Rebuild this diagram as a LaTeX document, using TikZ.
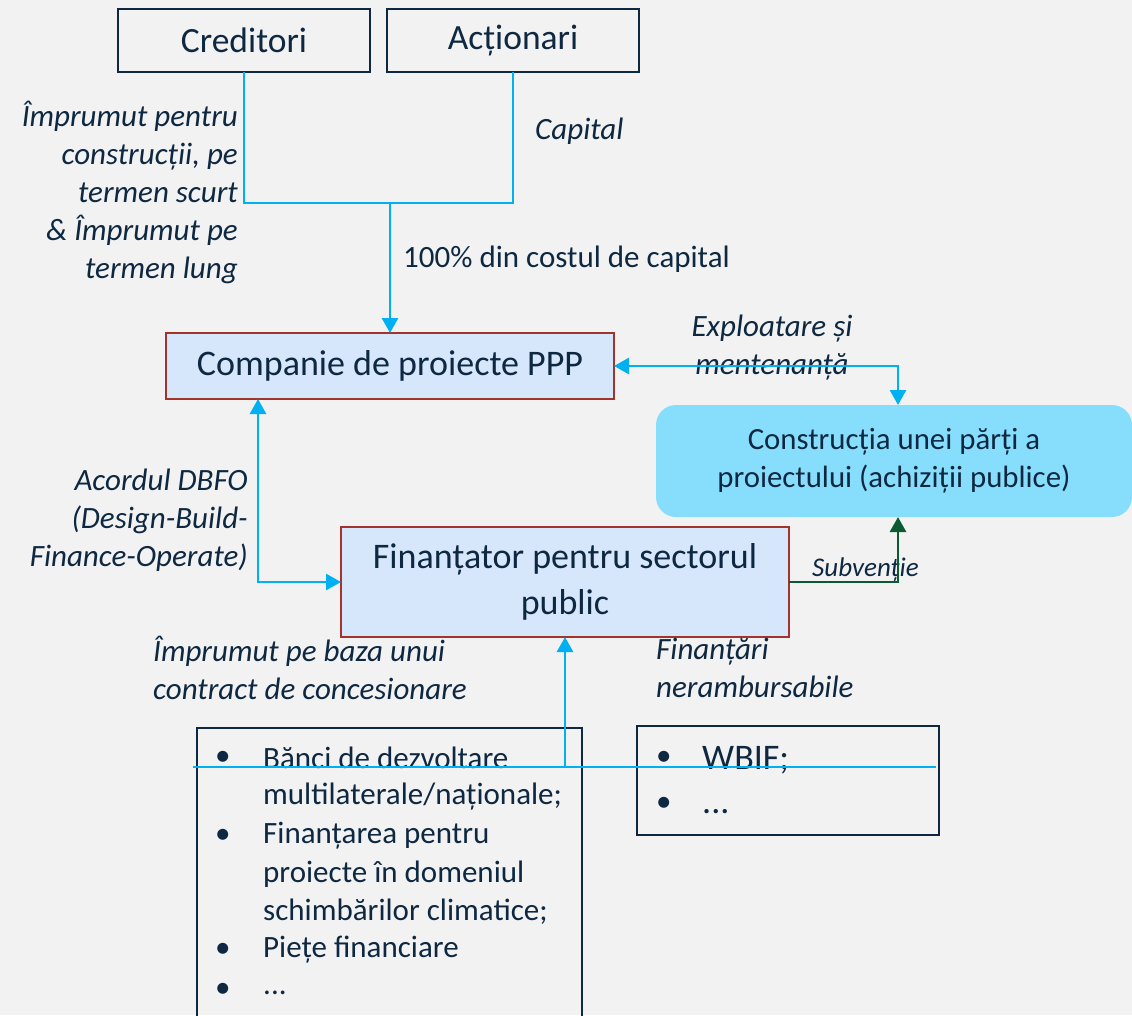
\documentclass[tikz,border=0pt]{standalone}
\usepackage{fontspec}
\setmainfont{Carlito}
\usetikzlibrary{arrows.meta}
\definecolor{bg}{HTML}{F2F2F2}
\definecolor{navy}{HTML}{0E2841}
\definecolor{cyanl}{HTML}{00B0F0}
\definecolor{boxfill}{HTML}{D7E7FB}
\definecolor{boxred}{HTML}{A3342B}
\definecolor{lightcyan}{HTML}{86DEFC}
\definecolor{dgreen}{HTML}{0B5A32}
\begin{document}
\begin{tikzpicture}[x=1pt,y=-1pt,
  topbox/.style={draw=navy, line width=1.8pt, inner sep=0pt, outer sep=0pt, text=navy, font=\fontsize{35.5}{42}\selectfont},
  mainbox/.style={draw=boxred, fill=boxfill, line width=1.5pt, inner sep=0pt, outer sep=0pt, text=navy, font=\fontsize{36}{46}\selectfont, align=center},
  consbox/.style={fill=lightcyan, rounded corners=20pt, inner sep=0pt, outer sep=0pt, text=navy, font=\fontsize{30.8}{38}\selectfont, align=center},
  listbox/.style={draw=navy, line width=1.8pt, inner sep=0pt, outer sep=0pt},
  lbl/.style={text=navy, font=\fontsize{31}{38}\selectfont\itshape, inner sep=0pt},
  plain/.style={text=navy, font=\fontsize{31}{38}\selectfont, inner sep=0pt},
  litem/.style={text=navy, font=\fontsize{31}{38}\selectfont, inner sep=0pt, anchor=west},
  bigitem/.style={text=navy, font=\fontsize{36}{44}\selectfont, inner sep=0pt, anchor=west},
  conn/.style={draw=cyanl, line width=2.8pt},
  tip/.style={-{Triangle[length=15pt,width=16pt]}},
  dtip/.style={{Triangle[length=15pt,width=16pt]}-{Triangle[length=15pt,width=16pt]}},
]
\useasboundingbox (0,0) rectangle (1132,1015);
\fill[bg] (0,0) rectangle (1132,1015);

% top boxes
\node[topbox, minimum width=252pt, minimum height=63pt] (cred) at (244,40.5) {Creditori};
\node[topbox, minimum width=252pt, minimum height=63pt] (act) at (513,40.5) {Acționari};

% main boxes
\node[mainbox, minimum width=448pt, minimum height=66pt] (comp) at (390,366) {Companie de proiecte PPP};
\node[consbox, minimum width=476pt, minimum height=112pt] (cons) at (894,461) {Construcția unei părți a\\proiectului (achiziții publice)};
\node[mainbox, minimum width=448pt, minimum height=110pt] (fin) at (565,582) {Finanțator pentru sectorul\\public};

% list boxes
\node[listbox, anchor=north west, minimum width=385pt, minimum height=310pt] (lb) at (197,728) {};
\node[listbox, anchor=north west, minimum width=302pt, minimum height=109pt] (rb) at (637,726) {};

% list text
\foreach \y in {758,836,950,990} {\node[litem] (b\y) at (215,\y) {•};}
\node[litem] (l1) at (263,758) {Bănci de dezvoltare};
\node[litem] (l2) at (263,797) {multilaterale/naționale;};
\node[litem] (l3) at (263,836) {Finanțarea pentru};
\node[litem] (l4) at (263,874) {proiecte în domeniul};
\node[litem] (l5) at (263,912) {schimbărilor climatice;};
\node[litem] (l6) at (263,950) {Piețe financiare};
\node[litem] (l7) at (263,993) {...};
\node[litem] (rb1) at (656,758) {•};
\node[litem] (rb2) at (656,804) {•};
\node[bigitem] (r1) at (702,760) {WBIF;};
\node[bigitem] (r2) at (702,812) {...};

% labels
\node[lbl, anchor=east, align=right] (lcred) at (238,192) {Împrumut pentru\\construcții, pe\\termen scurt\\\& Împrumut pe\\termen lung};
\node[lbl, anchor=west] (lcap) at (535,131) {Capital};
\node[plain, anchor=west] (l100) at (403,259) {100\% din costul de capital};
\node[lbl, align=center] (lexp) at (772,348) {Exploatare și\\mentenanță};
\node[lbl, anchor=east, align=right] (ldbfo) at (248,520) {Acordul DBFO\\(Design-Build-\\Finance-Operate)};
\node[lbl, anchor=west, font=\fontsize{27}{30}\selectfont\itshape] (lsub) at (812,570) {Subvenție};
\node[lbl, anchor=west, align=left] (limp) at (153,668) {Împrumut pe baza unui\\contract de concesionare};
\node[lbl, anchor=west, align=left] (lfin) at (656,668) {Finanțări\\nerambursabile};

% connectors
\coordinate (jn) at (390,203);
\draw[conn] (cred.south) |- (jn);
\draw[conn] (act.south) |- (jn);
\draw[conn, tip] (jn) -- (comp.north);

\coordinate (ec) at (898,366);
\draw[conn, dtip] (comp.east) -- (ec) -- (ec |- cons.north);

\coordinate (dc) at (258,582);
\draw[conn, dtip] (comp.south -| dc) -- (dc) -- (fin.west);

\draw[draw=dgreen, line width=2.8pt, tip] (fin.east) -| (ec |- cons.south);

\coordinate (bl) at (193,767);
\coordinate (br) at (936,767);
\coordinate (bm) at (565,767);
\draw[conn] (bl) -- (br);
\draw[conn, tip] (bm) -- (fin.south);
\end{tikzpicture}
\end{document}
